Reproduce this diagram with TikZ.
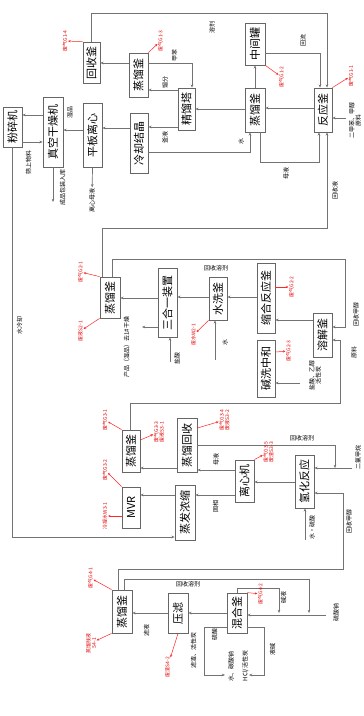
\documentclass[tikz,border=0pt]{standalone}
\usepackage{fontspec}
\setmainfont{Noto Sans CJK SC}
\usetikzlibrary{arrows.meta,positioning}
\newcommand{\vt}[1]{\rotatebox{90}{#1}}
\tikzset{
  unit/.style ={draw=black!60, line width=0.8pt, fill=white, inner sep=0pt,
                font=\fontsize{11}{11}\selectfont},
  flow/.style ={-{Stealth[length=3.2pt,width=2.6pt]}, draw=black!55, line width=0.7pt},
  pipe/.style ={draw=black!55, line width=0.7pt},
  emis/.style ={-{Stealth[length=2.6pt,width=2.2pt]}, draw=red!85, line width=0.5pt},
  elbl/.style ={rotate=90, font=\fontsize{5}{5.5}\selectfont, text=red!90!black,
                inner sep=0.5pt, align=center},
  mlbl/.style ={rotate=90, font=\fontsize{6}{6.5}\selectfont, inner sep=0.5pt, align=center},
  hlbl/.style ={font=\fontsize{6}{6.5}\selectfont, inner sep=0.5pt},
}
\begin{document}
\begin{tikzpicture}[x=1pt, y=-1pt]
\useasboundingbox[fill=white] (0,0) rectangle (364,716);
% ---- first line
\node[unit, minimum width=17pt, minimum height=41pt] (hs)  at (91.5,62.5) {\vt{回收釜}};
\node[unit, minimum width=19pt, minimum height=44pt] (zl1) at (138.5,75)  {\vt{蒸馏釜}};
\node[unit, minimum width=17pt, minimum height=42pt] (jlt) at (186.5,109) {\vt{精馏塔}};
\node[unit, minimum width=20pt, minimum height=42pt] (zjg) at (255,44)    {\vt{中间罐}};
\node[unit, minimum width=20pt, minimum height=44pt] (zl2) at (255,110)   {\vt{蒸馏釜}};
\node[unit, minimum width=18pt, minimum height=44pt] (fy1) at (323,110)   {\vt{反应釜}};
\node[unit, minimum width=19pt, minimum height=64pt] (lx1) at (92.5,135)  {\vt{平板离心}};
\node[unit, minimum width=18pt, minimum height=60pt] (jj)  at (139,143)   {\vt{冷却结晶}};
\node[unit, minimum width=20pt, minimum height=70pt] (gz)  at (53,132)    {\vt{真空干燥机}};
\node[unit, minimum width=19pt, minimum height=40pt] (fs)  at (12.5,127)  {\vt{粉碎机}};
% ---- second line
\node[unit, minimum width=20pt, minimum height=41pt] (zl3) at (110,297.5) {\vt{蒸馏釜}};
\node[unit, minimum width=19pt, minimum height=69pt] (shy) at (167.5,302.5) {\vt{三合一装置}};
\node[unit, minimum width=18pt, minimum height=43pt] (sx)  at (218,298.5) {\vt{水洗釜}};
\node[unit, minimum width=18pt, minimum height=70pt] (fy2) at (266,298)   {\vt{缩合反应釜}};
\node[unit, minimum width=19pt, minimum height=44pt] (rj)  at (322.5,335) {\vt{溶解釜}};
\node[unit, minimum width=18pt, minimum height=57pt] (zh)  at (266,368.5) {\vt{碱洗中和}};
% ---- third line
\node[unit, minimum width=18pt, minimum height=42pt] (zl4) at (131,451)   {\vt{蒸馏釜}};
\node[unit, minimum width=18pt, minimum height=41pt] (mvr) at (131,507.5) {\vt{MVR}};
\node[unit, minimum width=20pt, minimum height=54pt] (hs2) at (187,445)   {\vt{蒸馏回收}};
\node[unit, minimum width=20pt, minimum height=55pt] (ns)  at (185,512.5) {\vt{蒸发浓缩}};
\node[unit, minimum width=19pt, minimum height=42pt] (lx2) at (244.5,481) {\vt{离心机}};
\node[unit, minimum width=19pt, minimum height=53pt] (fy3) at (304.5,481.5) {\vt{氢化反应}};
% ---- fourth line
\node[unit, minimum width=20pt, minimum height=43pt] (zl5) at (122,611.5) {\vt{蒸馏釜}};
\node[unit, minimum width=20pt, minimum height=40pt] (yl)  at (178,613)   {\vt{压滤}};
\node[unit, minimum width=20pt, minimum height=40pt] (hh)  at (237,613)   {\vt{混合釜}};
% free ends
\coordinate (cp)   at (53,202);
\coordinate (fin)  at (346,118);
\coordinate (wp)   at (142,327);
\coordinate (wat1) at (215,360);
\coordinate (cl1)  at (170,362);
\coordinate (zin)  at (300,383);
\coordinate (mj)   at (335,468);
\coordinate (cin)  at (352,468);
\coordinate (win)  at (305,540);
\coordinate (din)  at (326,615);
\coordinate (lpl)  at (225,675);
\coordinate (lpr)  at (249,675);
% ---- connectors, first line
\draw[flow] (zl1.west |- 0,63) -- (hs.east |- 0,63);
\draw[flow] (zl1.east |- 0,63) -| (192,0 |- jlt.north);
\draw[flow] (jlt.west |- 0,90) -- (zl1.east |- 0,90);
\draw[flow] (jlt.west |- 0,127) -- (jj.east |- 0,127);
\draw[flow] (zl2.west |- 0,109) -- (jlt.east |- 0,109);
\draw[flow] (zl2) -- (zjg);
\draw[flow] (zjg.east |- 0,53) -| (320,0 |- fy1.north);
\draw[flow] (hs.north) |- (327,13) -- (327,0 |- fy1.north);
\draw[flow] (fy1.west |- 0,108) -- (zl2.east |- 0,108);
\draw[flow] (260,0 |- zl2.south) |- (319,162) -- (319,0 |- fy1.south);
\draw[flow] (jj.east |- 0,152) -| (250,0 |- zl2.south);
\draw[flow] (jj.west |- 0,128) -- (lx1.east |- 0,128);
\draw[flow] (lx1.west |- 0,130) -- (gz.east |- 0,130);
\draw[flow] (gz.west |- 0,115) -- (fs.east |- 0,115);
\draw[flow] (fs.east |- 0,142) -- (gz.west |- 0,142);
\draw[flow] (gz.south) -- (cp);
\draw[flow] (fs.south) |- (ns.west |- 0,537);
\draw[flow] (fin) -- (fy1.east |- fin);
% ---- connectors, second line
\draw[flow] (102,0 |- zl3.north) |- (327,228) -- (327,0 |- fy1.south);
\draw[flow] (112,0 |- zl3.north) |- (345,259) |- (rj.east |- 0,327);
\draw[flow] (rj.west |- 0,320) -- (fy2.east |- 0,320);
\draw[flow] (fy2.west |- 0,297) -- (sx.east |- 0,297);
\draw[flow] (sx.west |- 0,297) -- (shy.east |- 0,297);
\draw[flow] (shy.west |- 0,298) -- (zl3.east |- 0,298);
\draw[flow] (shy.west |- wp) -- (wp);
\draw[flow] (wat1) -- (wat1 |- sx.south);
\draw[flow] (cl1) -- (cl1 |- shy.south);
\draw[flow] (zin) -- (zh.east |- zin);
% ---- connectors, third line
\draw[flow] (130,0 |- zl4.north) |- (340,403) |- (rj.east |- 0,340);
\draw[flow] (hs2.west |- 0,468) -- (zl4.east |- 0,468);
\draw[flow] (hs2.east |- 0,445) -| (mj);
\draw[flow] (cin) -- (fy3.east |- cin);
\draw[flow] (fy3.west |- 0,482) -- (lx2.east |- 0,482);
\draw[flow] (lx2.west |- 0,470) -- (hs2.east |- 0,470);
\draw[flow] (lx2.west |- 0,495) -- (ns.east |- 0,495);
\draw[flow] (ns.west |- 0,495) -- (mvr.east |- 0,495);
\draw[flow] (118,0 |- zl5.north) |- (343,569) |- (fy3.east |- 0,493);
\draw[flow] (win) -- (win |- fy3.south);
% ---- connectors, fourth line
\draw[flow] (124,0 |- zl5.north) |- (309,579) -- (309,613);
\draw[flow] (hh.north) |- (279,588) -- (279,613);
\draw[flow] (din) -- (hh.east |- din);
\draw[flow] (hh.west |- 0,613) -- (yl.east |- 0,613);
\draw[flow] (yl.west |- 0,613) -- (zl5.east |- 0,613);
\draw[flow] (hh.west |- 0,627) -| (204,675) -- (lpl);
\draw[flow] (hh.east |- 0,627) -| (264,675) -- (lpr);
% ---- stream labels
\node[mlbl] at (174.5,55) {甲苯};
\node[mlbl] at (165,82)   {馏分};
\node[mlbl] at (165,137)  {釜液};
\node[mlbl] at (303,40)   {回流};
\node[mlbl] at (212,27)   {溶剂};
\node[mlbl] at (286,173)  {母液};
\node[mlbl] at (241,141)  {水};
\node[mlbl] at (355,120)  {二甲苯、甲醇\\原料};
\node[mlbl] at (70,112)   {湿品};
\node[mlbl] (ml1) at (92,200) {离心母液};
\draw[flow] (lx1.south) -- (ml1);
\node[mlbl] at (28.5,162) {筛上物料};
\node[mlbl] at (62.5,187) {成品包装入库};
\node[mlbl] at (19.5,325) {水冷却};
\node[mlbl] at (335,190)  {回收液};
\node[mlbl] at (356,314)  {回收甲醇};
\node[hlbl] at (216,268)  {回收溶剂};
\node[mlbl] at (225,342)  {水};
\node[mlbl] at (126.5,347) {产品（湿品）去1\#干燥};
\node[mlbl] at (177,358)  {盐酸};
\node[mlbl] at (315,375)  {盐酸、乙醇\\活性炭};
\node[mlbl] at (354,352)  {原料};
\node[hlbl] at (302,438)  {回收溶剂};
\node[mlbl] at (358,457)  {二氯甲烷};
\node[mlbl] at (216,459)  {母液};
\node[mlbl] at (215.5,506) {固相};
\node[mlbl] at (349,521)  {回收甲醇};
\node[mlbl] at (312,527)  {水·硫酸};
\node[mlbl] at (336,612)  {硫酸钠};
\node[mlbl] at (283.5,597) {碱液};
\node[mlbl] at (146.5,630) {滤液};
\node[hlbl] at (188,584)  {回收溶剂};
\node[mlbl] at (214.5,634) {硫酸};
\node[mlbl] at (272.5,649) {液碱};
\node[mlbl] at (231,666)  {水、碳酸钠};
\node[mlbl] at (245.5,666) {HCl/活性炭};
\node[mlbl] at (193.5,650) {滤渣、活性炭};
% ---- emissions
\node[elbl] (g11) at (351,76)  {废气G1-1};
\draw[emis] (fy1.north east) -- (g11);
\node[elbl] (g12) at (281.5,77) {废气G1-2};
\draw[emis] (zjg.south east) -- (g12);
\node[elbl] (g13) at (160.5,41) {废气G1-3};
\draw[emis] (zl1.north east) -- (g13);
\node[elbl] (g14) at (65,41)   {废气G1-4};
\draw[emis] (hs.north west) -- (g14);
\node[elbl] (g21) at (80.5,272) {废气G2-1};
\draw[emis] (zl3.north west) -- (g21);
\node[elbl] (s21) at (80.5,331) {废液S2-1};
\draw[emis] (zl3.south west) -- (s21);
\node[elbl] (g22) at (291.5,287) {废气G2-2};
\draw[emis] (fy2.east |- 0,287) -- (g22);
\node[elbl] (w21) at (193.5,335) {废水W2-1};
\draw[emis] (sx.south west) -- (w21);
\node[elbl] (g23) at (288.5,351) {废气G2-3};
\draw[emis] (zh.east |- 0,352) -- (g23);
\node[elbl] (g31) at (105,420) {废气G3-1};
\draw[emis] (zl4.north west) -- (g31);
\node[elbl] (g32) at (105,470) {废气G3-2};
\draw[emis] (mvr.north west) -- (g32);
\node[elbl] (w31) at (105,516) {冷凝水W3-1};
\draw[emis] (mvr.west |- 0,516) -- (w31);
\node[elbl] (g33) at (159,432) {废气G3-3\\废液S3-1};
\draw[emis] (zl4.east |- 0,440) -- (g33);
\node[elbl] (g34) at (224.5,420) {废气G3-4\\废液S3-2};
\draw[emis] (hs2.east |- 0,428) -- (g34);
\node[elbl] (g35) at (268.5,452) {废气G3-5\\废渣S3-3};
\draw[emis] (lx2.north east) -- (g35);
\node[elbl] (g41) at (90.5,578) {废气G4-1};
\draw[emis] (zl5.north west) -- (g41);
\node[elbl] (s41) at (91,643)  {蒸馏残液\\S4-1};
\draw[emis] (zl5.south west) -- (s41);
\node[elbl] (s42) at (167.5,667) {废渣S4-2};
\draw[emis] (yl.south) -- (s42);
\node[elbl] (g42) at (260.5,594) {废气G4-2};
\draw[emis] (hh.north east) -- (g42);
\end{tikzpicture}
\end{document}
